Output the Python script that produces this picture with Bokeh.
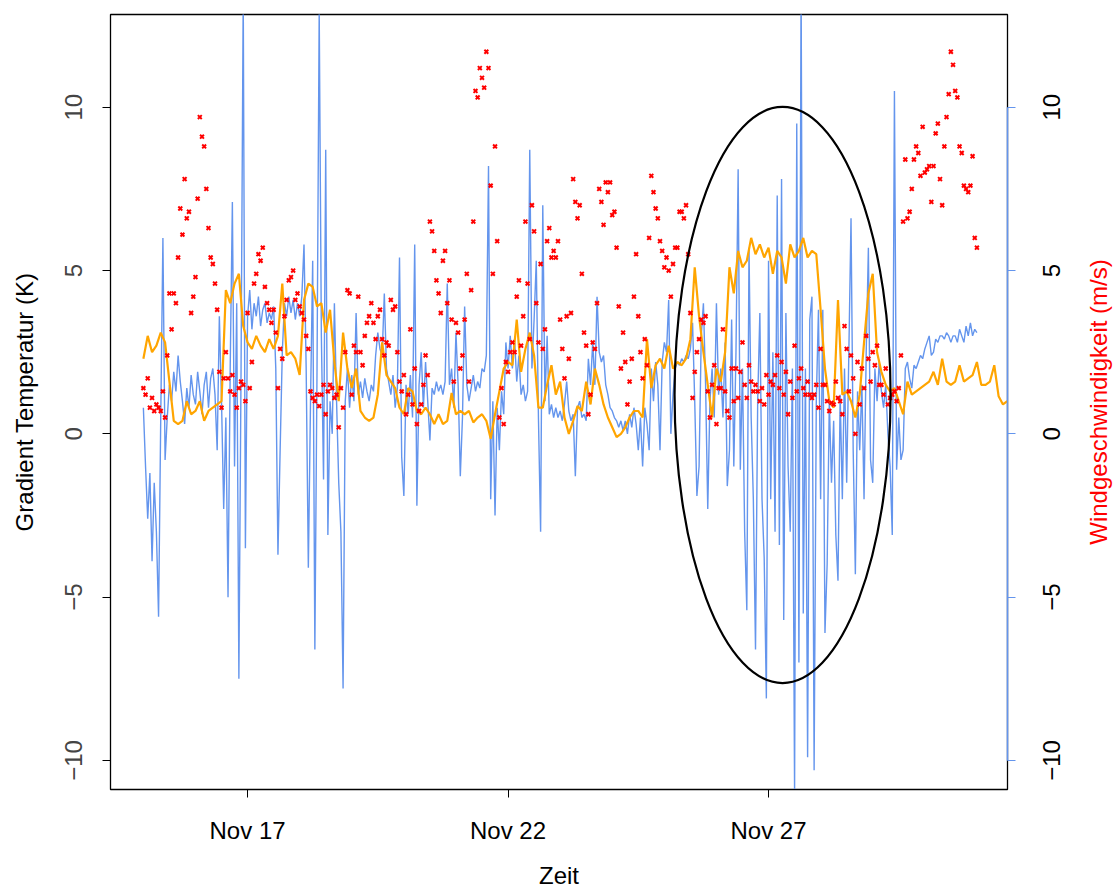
import math
import pandas as pd
from bokeh.plotting import figure
from bokeh.layouts import row
from bokeh.models import Range1d, LinearAxis, FixedTicker, DatetimeTickFormatter
from bokeh.core.properties import value
from bokeh.embed import file_html
from bokeh.resources import INLINE

# ---------------- data ----------------
series_start = "2014-11-15 00:00"

# blue line: temperature gradient (K), hourly
temp_gradient = [
    0.8, -1.0, -2.6, -1.2, -3.9, -1.5, -3.0, -5.6, 0.5, 6.0, -0.8, 0.5,
    1.5, 1.0, 1.9, 1.3, 2.4, 1.6, 1.0, 0.3, 1.4, 0.8, 1.8, 1.2,
    0.9, 1.9, 1.3, 0.6, 1.5, 1.9, 0.8, 1.7, 2.0, 1.2, -0.5, 3.6,
    1.0, -2.3, 0.5, -5.0, 2.0, 7.1, -1.0, 4.0, -7.5, 2.0, 13.5, -3.5,
    3.6, 4.4, 3.2, 4.0, 3.6, 4.2, 3.3, 3.8, 4.0, 3.4, 3.7, 3.5,
    3.9, 2.0, -3.7, -0.5, 2.5, 4.0, 3.6, 4.2, 3.7, 4.1, 3.5, 4.0,
    3.6, 4.2, 5.8, 2.0, -4.1, 1.0, 5.3, -6.6, 2.0, 13.0, 3.0, -1.4,
    8.7, -3.1, 1.0, 0.0, 4.0, 1.0, -1.5, -3.0, -7.8, 1.0, 2.0, 0.8,
    1.8, 1.0, 3.7, 1.2, 1.6, 1.1, 1.7, 1.3, 1.0, 1.5, 1.3, 2.4,
    3.1, 2.6, 2.4, 4.3, 2.0, 1.6, 1.2, 1.8, 0.8, 1.4, 5.4, -0.7,
    -1.9, 1.5, 0.6, 1.8, 0.5, 5.8, -2.2, 1.5, 2.5, 0.8, 2.2, 1.0,
    -0.2, 1.4, 1.2, 1.6, 1.3, 1.5, 1.2, 1.6, 4.6, 1.5, 2.0, 0.8,
    3.1, 1.5, -1.3, 0.5, 3.9, 1.5, 1.0, 1.4, 1.8, 1.3, 1.6, 1.4,
    2.0, 1.9, 2.4, 8.2, -2.0, 1.0, -2.5, 0.8, -0.5, 1.3, 0.6, 2.8,
    2.0, 3.0, 2.0, 2.9, 1.6, 2.4, 1.2, 1.5, 1.0, 1.3, 8.7, 2.0,
    3.5, 5.3, 0.5, -3.0, 7.0, 1.0, 3.0, 0.6, 0.9, 0.5, 0.8, 0.5,
    0.7, 0.4, 0.9, 1.6, 0.7, 0.4, 0.6, -1.3, 0.8, 1.0, 0.5, 0.6,
    0.4, 2.3, 1.5, 2.8, 1.5, 4.2, 2.5, 2.2, 2.4, 1.5, 1.2, 0.8,
    0.7, 0.5, 0.4, 0.2, 0.4, 0.1, 0.4, 0.0, 0.6, 0.2, 0.8, 0.3,
    -0.5, 0.5, -1.0, 0.8, 0.3, -0.5, 2.0, 1.0, 2.2, 1.5, -0.5, 2.2,
    2.8, 2.5, 4.1, 0.0, 1.2, 2.0, 2.2, 2.1, 2.3, 2.2, 2.4, 2.3,
    2.6, 3.4, 1.0, -1.9, -1.0, 3.0, 4.0, 1.5, -2.3, 1.0, 2.0, 0.5,
    4.0, 1.2, 2.0, 0.5, 2.8, -1.6, -0.5, 3.5, -1.0, 2.5, 8.1, -1.1,
    2.0, -3.0, -5.4, 5.7, 0.5, -2.0, -6.6, 1.0, 3.7, -2.0, -3.8, -8.1,
    5.3, -2.0, 2.5, -3.0, 7.3, -3.4, 7.8, -5.7, 3.7, -1.0, -3.0, 2.0,
    -11.0, 9.5, -7.0, 14.0, -5.5, 2.0, -9.9, 3.5, 4.2, -10.3, 1.0, 3.8,
    -2.0, 3.8, -6.1, -4.0, 1.0, -1.5, 0.4, -3.1, -4.5, 1.2, -2.0, 2.0,
    -1.5, 2.5, 6.6, -0.5, -4.3, 1.3, -0.5, 1.5, -2.0, 2.5, 5.7, -0.8,
    -1.5, 2.0, 1.0, 2.2, 1.3, 0.8, 1.5, 0.0, -1.0, -3.1, 10.5, -1.1,
    0.5, -0.8, -0.5, 2.0, 2.2, 1.7, 1.4, 2.1, 2.0, 2.2, 2.4, 2.3,
    2.6, 2.8, 3.0, 2.4, 2.5, 2.9, 2.8, 3.0, 3.0, 2.9, 3.1, 3.0,
    2.8, 3.0, 3.0, 2.8, 3.2, 3.0, 2.8, 3.3, 3.0, 3.4, 3.0, 3.2,
    3.1,
]

# orange line: second gradient series (K), 2-hourly
temp_gradient_b = [
    2.3, 3.0, 2.5, 2.7, 3.1, 2.8, 1.6, 0.4, 0.3, 0.4, 1.0, 0.6,
    0.7, 1.0, 0.4, 0.7, 0.8, 0.9, 1.0, 4.4, 4.0, 4.6, 4.9, 3.3,
    2.8, 2.6, 3.0, 2.7, 2.5, 2.9, 2.6, 3.0, 4.6, 2.4, 2.5, 2.3,
    1.8, 4.1, 4.6, 4.5, 3.9, 4.0, 3.1, 3.8, 2.2, 1.0, 3.1, 2.0,
    1.4, 2.0, 0.7, 0.5, 0.4, 0.5, 1.2, 2.8, 1.8, 1.6, 1.4, 0.8,
    0.6, 1.4, 1.3, 0.7, 0.6, 0.8, 0.6, 0.3, 0.6, 0.3, 0.4, 1.25,
    0.6, 0.7, 0.6, 0.7, 0.35, 0.5, 0.6, 0.4, -0.15, 0.6, 1.3, 2.0,
    2.2, 2.1, 3.5, 1.9, 2.6, 3.1, 2.4, 0.8, 0.8, 1.5, 2.1, 1.2,
    1.6, 0.5, 0.0, 0.4, 0.85, 0.7, 1.6, 0.9, 2.0, 1.5, 0.9, 0.5,
    0.2, -0.1, 0.0, 0.2, 0.5, 0.7, 0.7, 0.5, 2.9, 1.4, 2.1, 2.3,
    2.0, 2.7, 2.0, 2.2, 2.1, 2.3, 2.9, 5.1, 3.6, 2.5, 1.5, 0.5,
    2.0, 1.6, 2.5, 5.1, 4.3, 5.6, 5.1, 5.3, 6.0, 5.5, 5.8, 5.4,
    5.7, 4.9, 5.6, 5.4, 4.6, 5.8, 5.4, 5.6, 6.0, 5.4, 5.6, 5.5,
    3.8, 2.0, 1.0, 0.8, 4.1, 1.2, 1.3, 1.0, 0.5, 1.2, 2.8, 4.3,
    4.9, 2.5, 1.9, 1.5, 1.3, 1.4, 1.0, 0.6, 1.6, 1.2, 1.3, 1.4,
    1.5, 1.6, 1.9, 1.5, 2.3, 1.6, 1.5, 1.6, 2.1, 1.6, 1.7, 1.8,
    2.2, 1.5, 1.5, 1.6, 2.1, 1.15, 0.9, 1.0,
]

# red points: wind speed (m/s), hourly
wind_speed = [
    # Nov 15
    1.4, 1.2, 1.7, 0.8, 1.1, 0.7, 0.9, 0.8, 0.7, 1.3, 0.5, 2.4,
    4.3, 3.2, 4.3, 4.0, 5.4, 6.9, 6.1, 7.8, 6.6, 6.8, 3.7, 4.2,
    # Nov 16
    4.8, 7.2, 9.7, 9.1, 8.8, 7.5, 6.3, 5.4, 5.2, 4.6, 3.8, 1.9,
    0.8, 1.7, 2.5, 1.7, 1.3, 1.8, 1.2, 0.8, 1.4, 1.6, 1.5, 1.0,
    # Nov 17
    3.7, 1.4, 2.2, 4.6, 4.9, 5.5, 5.3, 5.7, 4.5, 4.0, 3.8, 3.4,
    3.8, 3.1, 1.4, 2.6, 2.3, 3.6, 4.1, 4.7, 4.8, 5.0, 4.1, 4.3,
    # Nov 18
    3.9, 3.7, 3.5, 3.0, 2.6, 1.3, 1.1, 1.0, 1.2, 0.85, 1.2, 1.5,
    0.6, 1.3, 1.5, 1.4, 1.1, 1.2, 0.2, 1.4, 0.8, 2.5, 4.4, 4.3,
    # Nov 19
    1.2, 2.7, 2.5, 4.2, 2.5, 2.1, 3.0, 3.4, 3.6, 4.0, 3.4, 2.9,
    3.6, 3.8, 2.9, 2.4, 2.8, 2.7, 4.1, 3.8, 3.9, 2.5, 1.6, 1.3,
    # Nov 20
    1.8, 0.6, 1.2, 3.2, 0.9, 2.0, 0.3, 0.7, 0.9, 1.5, 2.4, 1.8,
    6.5, 6.2, 5.6, 4.7, 4.3, 3.7, 5.3, 5.6, 4.0, 4.7, 3.5, 1.6,
    # Nov 21
    3.4, 3.1, 2.0, 2.4, 3.5, 4.9, 1.6, 4.4, 6.5, 10.5, 10.3, 11.2,
    10.9, 10.6, 11.7, 11.2, 7.6, 4.9, 8.8, 5.9, 0.5, 1.4, 0.3, 2.2,
    # Nov 22
    1.9, 2.5, 2.8, 2.5, 4.2, 4.7, 2.7, 3.6, 6.5, 4.6, 2.9, 7.0,
    6.2, 4.0, 2.8, 5.2, 2.6, 3.2, 5.9, 6.3, 5.4, 5.6, 5.4, 5.9,
    # Nov 23
    3.5, 2.6, 1.7, 3.6, 2.3, 3.7, 7.8, 7.1, 6.6, 7.0, 4.9, 3.1,
    2.7, 0.6, 1.2, 2.8, 2.6, 4.0, 7.5, 7.1, 6.4, 7.7, 7.4, 7.7,
    # Nov 24
    6.7, 6.8, 5.7, 3.9, 2.0, 3.1, 2.2, 0.9, 1.6, 2.3, 4.2, 5.5,
    3.6, 2.5, 1.7, 2.9, 2.1, 6.0, 7.9, 7.4, 6.9, 6.6, 5.9, 5.6,
    # Nov 25
    5.1, 5.4, 5.0, 4.2, 5.2, 5.7, 5.7, 6.8, 6.8, 6.6, 7.0, 5.5,
    3.7, 1.1, 1.9, 2.5, 2.9, 3.5, 3.4, 3.6, 1.3, 0.5, 1.5, 2.1,
    # Nov 26
    0.3, 1.4, 1.4, 3.2, 1.3, 0.7, 0.5, 2.0, 1.0, 2.0, 1.1, 1.9,
    2.8, 1.5, 1.1, 2.1, 1.6, 1.3, 1.5, 1.3, 1.0, 1.4, 0.9, 1.8,
    # Nov 27
    1.2, 1.6, 1.5, 1.8, 2.4, 1.4, 2.2, 1.2, 1.9, 0.6, 1.6, 1.1,
    2.7, 1.3, 1.7, 2.0, 1.4, 1.2, 1.6, 1.2, 1.1, 1.2, 1.5, 0.8,
    # Nov 28
    2.6, 1.5, 1.5, 1.0, 0.7, 0.95, 0.9, 1.6, 1.1, 1.0, 0.6, 3.3,
    2.6, 1.3, 2.4, 1.7, 0.0, 2.2, 0.9, 2.0, 1.4, 3.0, 2.3, 1.6,
    # Nov 29
    2.5, 2.1, 2.7, 1.5, 1.5, 1.2, 2.0, 0.9, 1.1, 1.2, 1.3, 1.0,
    1.4, 2.4, 6.5, 8.4, 6.6, 6.8, 7.5, 8.4, 8.8, 8.6, 7.9, 9.4,
    # Nov 30
    8.0, 8.1, 8.2, 7.1, 8.2, 9.2, 9.5, 7.8, 7.0, 8.8, 9.7, 10.4,
    11.7, 11.3, 10.5, 10.3, 8.8, 8.6, 7.6, 7.5, 7.4, 7.6, 8.5, 6.0,
    # Dec 1
    5.7,
]

y_ticks = [-10, -5, 0, 5, 10]
y_tick_labels = ["\u221210", "\u22125", "0", "5", "10"]
x_tick_dates = ["2014-11-17", "2014-11-22", "2014-11-27"]
right_axis_title = "Windgeschwindigkeit (m/s)"

# highlighted period (ellipse)
ellipse_center_time = "2014-11-27 06:28"
ellipse_center_value = 1.19
ellipse_width_days = 4.146
ellipse_height_value = 17.64

# ---------------- styles ----------------
FONT = "Liberation Sans"
FS = "24px"
BLUE = "#6495ED"
ORANGE = "#FFA500"
TOTAL_W, TOTAL_H = 1113, 891
MAIN_W = 1022          # main figure incl. right ticks
SIDE_W = TOTAL_W - MAIN_W
BORDER_TOP, BORDER_BOTTOM = 14, 101

t0 = pd.Timestamp(series_start)
t_blue = pd.date_range(t0, periods=len(temp_gradient), freq="1h")
t_orange = pd.date_range(t0, periods=len(temp_gradient_b), freq="2h")
t_red = pd.date_range(t0, periods=len(wind_speed), freq="1h")

x_lo = t0 - pd.Timedelta(days=0.631)
x_hi = t0 + pd.Timedelta(days=16.587)
y_range = Range1d(-10.89, 12.84)

p = figure(width=MAIN_W, height=TOTAL_H, x_axis_type="datetime",
           output_backend="svg", toolbar_location=None,
           x_range=Range1d(x_lo.to_pydatetime(), x_hi.to_pydatetime()),
           y_range=y_range,
           min_border_left=110, min_border_right=MAIN_W - 1007,
           min_border_top=BORDER_TOP, min_border_bottom=BORDER_BOTTOM)

p.xgrid.visible = False
p.ygrid.visible = False
p.outline_line_color = "black"
p.outline_line_width = 1.3
p.background_fill_color = "white"
p.border_fill_color = "white"

# series
p.line(t_blue, temp_gradient, line_color=BLUE, line_width=1.4)
p.line(t_orange, temp_gradient_b, line_color=ORANGE, line_width=2.2)
p.scatter(t_red, wind_speed, marker="x", size=5.5, line_color="red", line_width=2)

# ellipse marking period
ec = pd.Timestamp(ellipse_center_time)
width_ms = ellipse_width_days * 24 * 3600 * 1000.0
p.ellipse(x=[ec], y=[ellipse_center_value], width=[width_ms], height=[ellipse_height_value],
          fill_color=None, line_color="black", line_width=2.2)

# x axis
xa = p.xaxis[0]
xa.ticker = FixedTicker(ticks=[pd.Timestamp(d).value / 1e6 for d in x_tick_dates])
fmt = "%b %d"
xa.formatter = DatetimeTickFormatter(days=fmt, months=fmt, hours=fmt, hourmin=fmt,
                                     minutes=fmt, minsec=fmt, seconds=fmt, milliseconds=fmt,
                                     microseconds=fmt, years=fmt)
xa.axis_label = "Zeit"
xa.minor_tick_line_color = None
xa.major_tick_in = 0
xa.major_tick_out = 8
xa.major_tick_line_color = "black"
xa.axis_line_color = "black"
xa.major_label_standoff = 19
xa.axis_label_standoff = 15
xa.major_label_text_font = FONT
xa.major_label_text_font_size = FS
xa.major_label_text_color = "black"
xa.axis_label_text_font = FONT
xa.axis_label_text_font_size = FS
xa.axis_label_text_font_style = "normal"
xa.axis_label_text_color = "black"

overrides = {t: l for t, l in zip(y_ticks, y_tick_labels)}

# left y axis
ya = p.yaxis[0]
ya.ticker = FixedTicker(ticks=y_ticks)
ya.bounds = (-10, 10)
ya.major_label_overrides = overrides
ya.axis_label = "Gradient Temperatur (K)"
ya.minor_tick_line_color = None
ya.major_tick_in = 0
ya.major_tick_out = 8
ya.major_tick_line_color = "black"
ya.axis_line_color = "black"
ya.major_label_orientation = "vertical"
ya.major_label_standoff = 20
ya.axis_label_standoff = 25
ya.major_label_text_font = FONT
ya.major_label_text_font_size = FS
ya.axis_label_text_font = FONT
ya.axis_label_text_font_size = FS
ya.axis_label_text_font_style = "normal"
ya.axis_label_text_color = "black"

# right y axis (wind): ticks and blue line only
ra = LinearAxis(ticker=FixedTicker(ticks=y_ticks), bounds=(-10, 10))
ra.minor_tick_line_color = None
ra.major_tick_in = 0
ra.major_tick_out = 8
ra.major_tick_line_color = BLUE
ra.axis_line_color = BLUE
ra.axis_line_width = 1.5
ra.major_label_standoff = 0
ra.major_label_text_alpha = 0
ra.major_label_text_font_size = "1px"
p.add_layout(ra, "right")

# side panel carrying the right-axis texts (read bottom-to-top as in the reference)
side = figure(width=SIDE_W, height=TOTAL_H, output_backend="svg", toolbar_location=None,
              x_range=Range1d(0, SIDE_W), y_range=y_range,
              x_axis_location=None, y_axis_location=None,
              min_border_left=0, min_border_right=0,
              min_border_top=BORDER_TOP, min_border_bottom=BORDER_BOTTOM)
side.outline_line_color = None
side.xgrid.visible = False
side.ygrid.visible = False
side.background_fill_color = "white"
side.border_fill_color = "white"

tick_label_px = 1050 - 1022 + 1   # centre of tick labels inside the side panel
title_px = 1098 - 1022            # centre of axis title inside the side panel
side.text(x=[tick_label_px] * len(y_ticks), y=y_ticks, text=y_tick_labels,
          angle=math.pi / 2, text_align="center", text_baseline="middle",
          text_font=value(FONT), text_font_size=value(FS), text_color="black")
side.text(x=[title_px], y=[(y_range.start + y_range.end) / 2], text=[right_axis_title],
          angle=math.pi / 2, text_align="center", text_baseline="middle",
          text_font=value(FONT), text_font_size=value(FS), text_color="red")

layout = row(p, side, spacing=0)
open("out.html", "w").write(file_html(layout, INLINE, title="Gradient und Wind"))
